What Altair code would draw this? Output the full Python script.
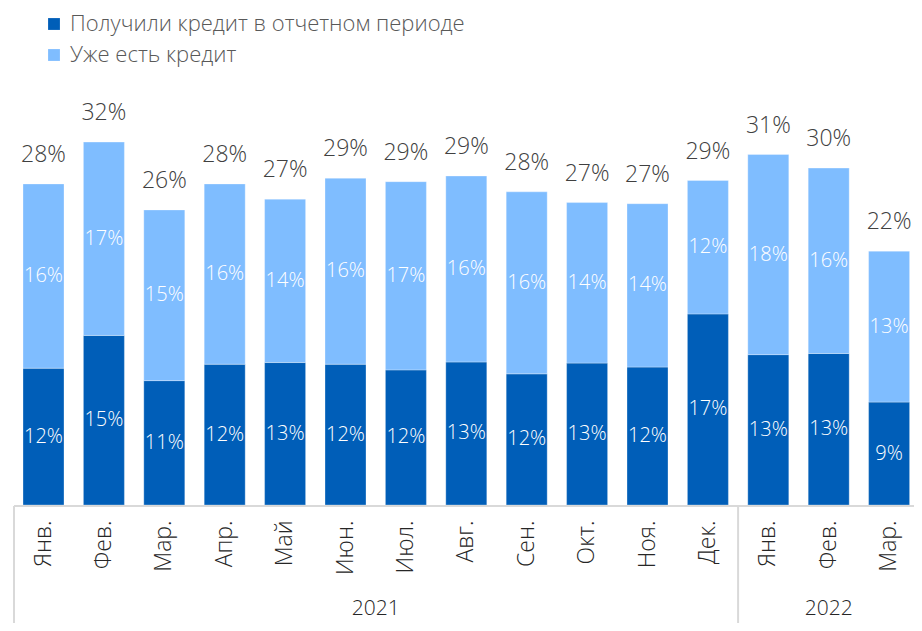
import altair as alt
import pandas as pd

months = ["Янв.", "Фев.", "Мар.", "Апр.", "Май", "Июн.", "Июл.", "Авг.", "Сен.", "Окт.", "Ноя.", "Дек.", "Янв.", "Фев.", "Мар."]
years = ["2021"] * 12 + ["2022"] * 3
series_names = ["Получили кредит в отчетном периоде", "Уже есть кредит"]
new_loans = [12.1, 15.0, 11.0, 12.45, 12.6, 12.45, 11.95, 12.65, 11.6, 12.55, 12.2, 16.9, 13.3, 13.4, 9.1]
existing = [16.3, 17.1, 15.1, 15.95, 14.45, 16.45, 16.65, 16.45, 16.1, 14.2, 14.45, 11.8, 17.7, 16.4, 13.35]
colors = ["#005EB8", "#7FBDFF"]

FONT = "Open Sans"
W, H = 900, 407

keys = [f"{m}|{y}|{i}" for i, (m, y) in enumerate(zip(months, years))]
rows = []
for i, k in enumerate(keys):
    d, e = new_loans[i], existing[i]
    rows.append(dict(key=k, series=series_names[0], ord=0, v=d, y0=0, y1=d, mid=d / 2))
    rows.append(dict(key=k, series=series_names[1], ord=1, v=e, y0=d, y1=d + e, mid=d + e / 2))
df = pd.DataFrame(rows)

step = 60.4
bw = 41.0
inner = 1 - bw / step
start = 9
x_scale = alt.Scale(domain=keys, range=[start, start + step * (len(keys) - inner)], paddingInner=inner, paddingOuter=0)
y_scale = alt.Scale(domain=[0, 36])
div_x = start + 11 * step + bw + (step - bw) / 2

base = alt.Chart(df)

bars = base.mark_bar(stroke="#ffffff", strokeWidth=0.6, strokeOpacity=0.5).encode(
    x=alt.X("key:N", scale=x_scale, sort=keys,
            axis=alt.Axis(title=None, domain=False, ticks=False, labelAngle=-90, labelAlign="right",
                          labelBaseline="middle", labelPadding=15, labelFontSize=23, labelFont=FONT,
                          labelFontWeight=300,
                          labelColor="#262626", labelExpr="split(datum.value, '|')[0]")),
    y=alt.Y("y0:Q", scale=y_scale, axis=None),
    y2="y1:Q",
    color=alt.Color("series:N", scale=alt.Scale(domain=series_names, range=colors),
                    legend=alt.Legend(orient="none", legendX=29, legendY=-85, title=None, direction="vertical",
                                      symbolType="square", symbolSize=140, symbolStrokeWidth=0,
                                      labelFontSize=22, labelFont=FONT, labelFontWeight=300, labelColor="#595959",
                                      labelOffset=5, rowPadding=9, labelLimit=700)),
    order=alt.Order("ord:Q"),
)

seg_text = base.transform_calculate(lbl="format(datum.v, '.0f') + '%'").mark_text(
    color="white", fontSize=20, font=FONT, fontWeight=300, baseline="middle"
).encode(
    x=alt.X("key:N", scale=x_scale, sort=keys),
    y=alt.Y("mid:Q", scale=y_scale),
    text="lbl:N",
)

tot_text = base.transform_aggregate(total="sum(v)", groupby=["key"]).transform_calculate(
    lbl="format(datum.total, '.0f') + '%'"
).mark_text(color="#404040", fontSize=23, font=FONT, fontWeight=300, baseline="alphabetic", dy=-22).encode(
    x=alt.X("key:N", scale=x_scale, sort=keys),
    y=alt.Y("total:Q", scale=y_scale),
    text="lbl:N",
)

year_df = pd.DataFrame({"key": [keys[5], keys[13]], "year": ["2021", "2022"]})
year_text_2021 = alt.Chart(year_df.iloc[[0]]).mark_text(fontSize=21, font=FONT, fontWeight=300, color="#262626", dx=step / 2, baseline="middle").encode(
    x=alt.X("key:N", scale=x_scale, sort=keys), y=alt.value(H + 104), text="year:N")
year_text_2022 = alt.Chart(year_df.iloc[[1]]).mark_text(fontSize=21, font=FONT, fontWeight=300, color="#262626", baseline="middle").encode(
    x=alt.X("key:N", scale=x_scale, sort=keys), y=alt.value(H + 104), text="year:N")

line_df = pd.DataFrame({"a": [0]})
baseline_rule = alt.Chart(line_df).mark_rule(color="#d9d9d9", strokeWidth=2).encode(
    x=alt.value(0), x2=alt.value(W), y=alt.value(H + 1))
left_rule = alt.Chart(line_df).mark_rule(color="#d9d9d9", strokeWidth=2).encode(
    x=alt.value(0), y=alt.value(H + 1), y2=alt.value(H + 118))
div_rule = alt.Chart(line_df).mark_rule(color="#d9d9d9", strokeWidth=2).encode(
    x=alt.value(div_x), y=alt.value(H + 1), y2=alt.value(H + 118))

chart = alt.layer(
    bars, baseline_rule, left_rule, div_rule, seg_text, tot_text, year_text_2021, year_text_2022
).properties(
    width=W, height=H,
    background="white",
    autosize=alt.AutoSizeParams(type="none"),
    padding={"left": 6, "top": 90, "right": 0, "bottom": 118},
).configure_view(strokeWidth=0, stroke="transparent")

chart.save("out.html", embed_options={"renderer": "svg", "actions": False})
